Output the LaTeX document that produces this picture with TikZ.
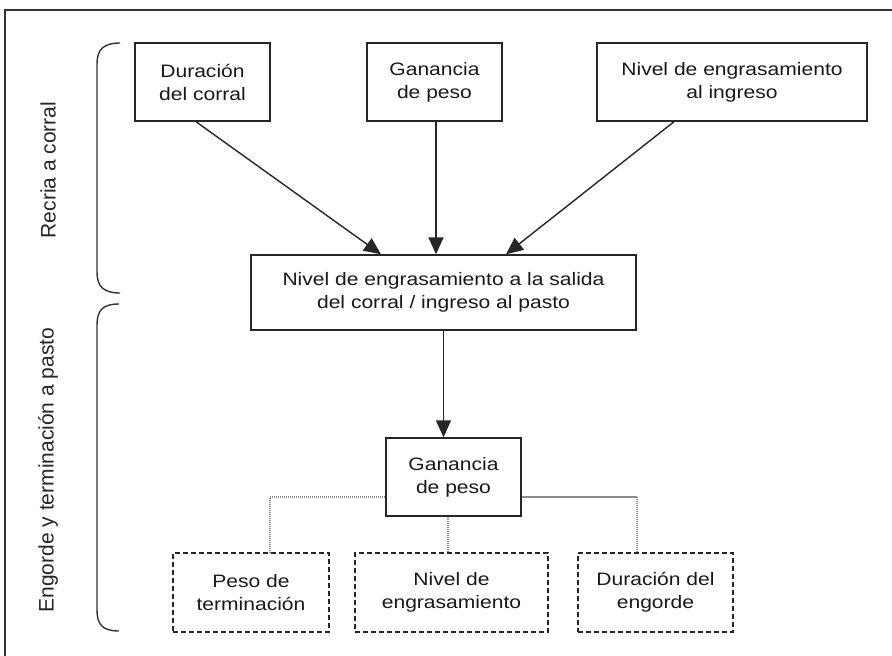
\documentclass[tikz,border=0pt]{standalone}
\usepackage{fontspec}
\setmainfont{Liberation Sans}[FakeStretch=1.17]
\newfontfamily\lblfont{Liberation Sans}
\usetikzlibrary{arrows.meta}
\begin{document}
\begin{tikzpicture}[x=1pt,y=-1pt,
  box/.style={draw=black!85, line width=1.4pt, align=center, inner sep=0pt, font=\fontsize{18}{23}\selectfont, text=black!90},
  dbox/.style={box, dash pattern=on 5pt off 3pt, line width=1.5pt},
  arr/.style={draw=black!85, line width=1.4pt, -{Triangle[length=17pt,width=15pt]}},
  conn/.style={draw=black!45, line width=1.3pt},
  dconn/.style={conn, dash pattern=on 1.2pt off 0.8pt},
  brace/.style={draw=black!80, line width=1.4pt},
  lbl/.style={rotate=90, font=\lblfont\fontsize{21}{25}\selectfont, text=black!85}]
\useasboundingbox (0,0) rectangle (892,656);
\fill[white] (0,0) rectangle (892,656);
\draw[line width=2pt, black!80] (5,657) -- (5,10) -- (893,10);

% top row
\node[box, minimum width=135pt, minimum height=78pt] (d1) at (202.5,82) {Duración\\del corral};
\node[box, minimum width=135pt, minimum height=78pt] (g1) at (434.5,82) {Ganancia\\de peso};
\node[box, minimum width=270pt, minimum height=78pt] (n1) at (732,82) {Nivel de engrasamiento\\al ingreso};

% middle
\node[box, minimum width=385pt, minimum height=75pt] (mid) at (443.5,292.5) {Nivel de engrasamiento a la salida\\del corral / ingreso al pasto};

% lower
\node[box, minimum width=135pt, minimum height=78pt] (g2) at (453.5,477) {Ganancia\\de peso};

\node[dbox, minimum width=156pt, minimum height=79pt] (p) at (251,592.5) {Peso de\\terminación};
\node[dbox, minimum width=193pt, minimum height=79pt] (ne) at (451.5,592.5) {Nivel de\\engrasamiento};
\node[dbox, minimum width=155pt, minimum height=79pt] (de) at (655.5,592.5) {Duración del\\engorde};

% labels
\node[lbl] (l1) at (48,170) {Recria a corral};
\node[lbl] (l2) at (48,470) {Engorde y terminación a pasto};

% braces
\draw[brace] (120,43) .. controls (103,43) and (97,50) .. (97,64) -- (97,272) .. controls (97,286) and (103,293) .. (120,293);
\draw[brace] (119,304) .. controls (102,304) and (97,311) .. (97,325) -- (97,610) .. controls (97,624) and (102,631) .. (119,631);

% arrows
\draw[arr] ([xshift=-6.5pt]d1.south) -- ([xshift=-62.5pt]mid.north);
\draw[arr] ([xshift=1.5pt]g1.south) -- ([xshift=-7.5pt]mid.north);
\draw[arr] ([xshift=-58pt]n1.south) -- ([xshift=62.5pt]mid.north);
\draw[arr] (mid.south) -- (mid.south |- g2.north);

% connectors
\coordinate (cl) at (270,497);
\coordinate (cr) at (637,497);
\draw[dconn] (g2.west |- cl) -- (cl) -- (cl |- p.north);
\draw[conn] (g2.east |- cr) -- (cr);
\draw[dconn] (cr) -- (cr |- de.north);
\draw[dconn] ([xshift=-5.5pt]g2.south) -- ([xshift=-5.5pt]g2.south |- ne.north);
\end{tikzpicture}
\end{document}
